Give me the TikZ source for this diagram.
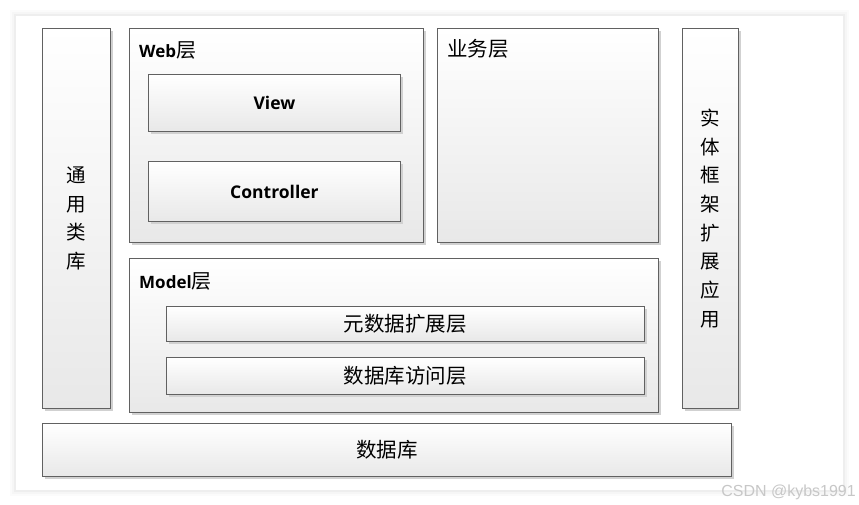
\documentclass[tikz,border=0pt]{standalone}
\usepackage{fontspec}
\setmainfont{Open Sans}
\newfontfamily\cjk{Noto Sans CJK SC}
\newfontfamily\wmfont{Liberation Sans}
\usetikzlibrary{shadows,calc}
\tikzset{
  box/.style={rectangle, draw=black!62, line width=0.9pt, top color=white, bottom color=black!9,
    inner sep=0pt, anchor=north west,
    drop shadow={shadow xshift=3pt, shadow yshift=-3pt, fill=black!18, opacity=1}},
  lat/.style={font=\fontsize{17.5}{20}\selectfont\bfseries},
  zh/.style={font=\cjk\fontsize{20.5}{24}\selectfont},
  vzh/.style={font=\cjk\fontsize{19.5}{28.7}\selectfont, align=center},
  ttl/.style={anchor=base west, inner sep=0pt},
}
\begin{document}
\begin{tikzpicture}[x=1pt,y=-1pt]
\useasboundingbox (0,0) rectangle (859,505);
% page with soft shadow
\foreach \k/\o in {6/0.015,4/0.02,2/0.03}{
  \fill[black, opacity=\o] (16-\k,16-\k) rectangle (843+\k,490+\k);
}
\fill[white] (16,16) rectangle (843,490);

% boxes
\node[box, minimum width=68pt, minimum height=380pt] (lib) at (42,28) {};
\node[box, minimum width=294pt, minimum height=214pt] (web) at (129,28) {};
\node[box, minimum width=252pt, minimum height=57pt] (view) at (148,74) {};
\node[box, minimum width=252pt, minimum height=60pt] (ctrl) at (148,161) {};
\node[box, minimum width=221pt, minimum height=214pt] (biz) at (437,28) {};
\node[box, minimum width=56pt, minimum height=380pt] (ent) at (682,28) {};
\node[box, minimum width=529pt, minimum height=154pt] (model) at (129,258) {};
\node[box, minimum width=478pt, minimum height=35pt] (meta) at (166,306) {};
\node[box, minimum width=478pt, minimum height=37pt] (dal) at (166,357) {};
\node[box, minimum width=689pt, minimum height=53pt] (db) at (42,423) {};

% texts
\node[vzh] (libt) at (lib.center) {通\\用\\类\\库};
\node[vzh] (entt) at (ent.center) {实\\体\\框\\架\\扩\\展\\应\\用};
\node[ttl] (webt) at ($(web.north west)+(10,30)$) {\fontsize{17}{20}\selectfont\bfseries Web\cjk\mdseries\fontsize{20}{22}\selectfont 层};
\node[lat] (viewt) at (view.center) {View};
\node[lat] (ctrlt) at (ctrl.center) {Controller};
\node[ttl, zh] (bizt) at ($(biz.north west)+(10,29)$) {业务层};
\node[ttl] (modelt) at ($(model.north west)+(10,30)$) {\fontsize{17}{20}\selectfont\bfseries Model\cjk\mdseries\fontsize{20}{22}\selectfont 层};
\node[zh] (metat) at (meta.center) {元数据扩展层};
\node[zh] (dalt) at (dal.center) {数据库访问层};
\node[zh] (dbt) at (db.center) {数据库};

% watermark
\node[anchor=base east, inner sep=0pt, text=black!22, font=\wmfont\fontsize{16}{18}\selectfont] (wm) at (856,496) {CSDN @kybs1991};
\end{tikzpicture}
\end{document}
